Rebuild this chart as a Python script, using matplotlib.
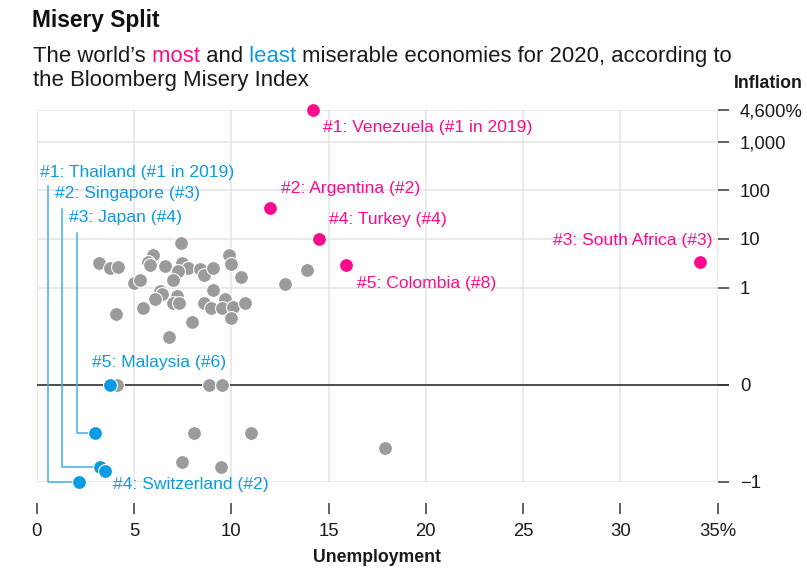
import matplotlib
matplotlib.use("Agg")
import matplotlib.pyplot as plt
import matplotlib.transforms as mtransforms

plt.rcParams['font.family'] = ['Liberation Sans', 'DejaVu Sans']

# ---------------- data ----------------
grey_unemp = [7.40, 3.22, 3.77, 4.19, 5.99, 5.73, 5.82, 6.58, 7.45, 7.79, 7.28, 8.39,
              8.60, 9.08, 9.88, 9.98, 10.48, 5.00, 5.31, 6.99, 12.78, 13.91,
              6.34, 6.42, 6.08, 7.19, 6.99, 7.33, 9.08, 8.60, 8.94, 9.68, 9.54,
              10.10, 10.70, 9.97, 5.48, 4.07, 7.98, 6.78,
              4.11, 8.87, 9.51,
              8.08, 11.00, 7.48, 9.47, 17.9]
grey_infl = [8.27, 3.13, 2.52, 2.59, 4.67, 3.29, 2.90, 2.77, 3.13, 2.47, 2.14, 2.40,
             1.80, 2.47, 4.67, 3.04, 1.66, 1.23, 1.44, 1.44, 1.18, 2.32,
             0.965, 0.937, 0.886, 0.914, 0.845, 0.839, 0.972, 0.845, 0.787, 0.886, 0.794,
             0.801, 0.845, 0.691, 0.794, 0.732, 0.647, 0.493,
             0.0, 0.0, 0.0,
             -0.50, -0.50, -0.80, -0.85, -0.65]

most_labels = ["#1: Venezuela (#1 in 2019)", "#2: Argentina (#2)", "#4: Turkey (#4)",
               "#5: Colombia (#8)", "#3: South Africa (#3)"]
most_unemp = [14.2, 12.0, 14.5, 15.9, 34.1]
most_infl = [4500, 44, 10.1, 2.9, 3.4]

least_labels = ["#1: Thailand (#1 in 2019)", "#2: Singapore (#3)", "#3: Japan (#4)",
                "#4: Switzerland (#2)", "#5: Malaysia (#6)"]
least_unemp = [2.19, 3.25, 3.00, 3.51, 3.77]
least_infl = [-1.02, -0.85, -0.50, -0.89, 0.0]

x_ticks = [0, 5, 10, 15, 20, 25, 30, 35]
x_ticklabels = ["0", "5", "10", "15", "20", "25", "30", "35%"]
y_ticks = [-1, 0, 1, 10, 100, 1000, 4600]
y_ticklabels = ["\u22121", "0", "1", "10", "100", "1,000", "4,600%"]

# ---------------- style ----------------
PINK = "#ff0a8c"
BLUE = "#0a9be2"
LEADER = "#45aee8"
GREY = "#9b9b9b"
GRID = "#e4e4e4"
TXT = "#1a1a1a"
FS = 12.6
TFS = 13.3

W, H = 807, 575
fig = plt.figure(figsize=(W / 100, H / 100), dpi=100)
fig.patch.set_facecolor("white")

x0, x1, ytop, ybot = 36.7, 717.7, 109.7, 481.7
ax = fig.add_axes([x0 / W, 1 - ybot / H, (x1 - x0) / W, (ybot - ytop) / H])
ax.set_yscale('symlog', linthresh=1, linscale=1.8)
ax.set_xlim(0, 35)
ax.set_ylim(-1, 4600)

for s in ax.spines.values():
    s.set_visible(False)
ax.spines['bottom'].set_position(('outward', 15))

ax.set_xticks(x_ticks)
ax.set_xticklabels(x_ticklabels)
ax.set_yticks(y_ticks)
ax.set_yticklabels(y_ticklabels)
ax.yaxis.set_minor_locator(matplotlib.ticker.NullLocator())
ax.yaxis.tick_right()
ax.tick_params(axis='x', direction='out', length=8, width=1.3, color='#555555',
               pad=6.5, labelsize=TFS, labelcolor=TXT)
ax.tick_params(axis='y', direction='out', length=8, width=1.3, color='#555555',
               pad=8, labelsize=TFS, labelcolor=TXT)

ax.grid(True, color=GRID, linewidth=1.1, zorder=0)
ax.set_axisbelow(True)

# zero line extended past the axis edge
trans = mtransforms.blended_transform_factory(ax.transAxes, ax.transData)
ax.plot([0, 1.016], [0, 0], color="#333333", lw=1.2, transform=trans,
        clip_on=False, zorder=1.5, solid_capstyle='butt')

# grey dots
ax.scatter(grey_unemp, grey_infl, s=100, color=GREY, edgecolors='white',
           linewidths=0.8, zorder=3, clip_on=False)

# leader lines for the least miserable
leader_x = [0.57, 1.30, 2.07]
leader_top = [126, 42, 13.5]
leader_text_off = [(-8, 13), (-7, 15), (-8, 15)]
for i in range(3):
    ax.plot([leader_x[i], leader_x[i], least_unemp[i]],
            [leader_top[i], least_infl[i], least_infl[i]],
            color=LEADER, lw=1.1, zorder=2.5, clip_on=False)
    ax.annotate(least_labels[i], xy=(leader_x[i], leader_top[i]),
                xytext=leader_text_off[i], textcoords='offset pixels',
                ha='left', va='center', color=BLUE, fontsize=FS, zorder=6,
                annotation_clip=False)

# other least-miserable labels
ax.annotate(least_labels[3], xy=(least_unemp[3], least_infl[3]), xytext=(8, -13),
            textcoords='offset pixels', ha='left', va='center', color=BLUE,
            fontsize=FS, zorder=6, annotation_clip=False)
ax.annotate(least_labels[4], xy=(least_unemp[4], least_infl[4]), xytext=(-18, 22),
            textcoords='offset pixels', ha='left', va='center', color=BLUE,
            fontsize=FS, zorder=6, annotation_clip=False)

ax.scatter(least_unemp, least_infl, s=100, color=BLUE, edgecolors='white',
           linewidths=0.8, zorder=4, clip_on=False)

# most miserable
ax.scatter(most_unemp, most_infl, s=100, color=PINK, edgecolors='white',
           linewidths=0.8, zorder=4, clip_on=False)
most_off = [(10, -17, 'left'), (11, 19, 'left'), (10, 19, 'left'),
            (11, -18, 'left'), (12, 21, 'right')]
for lab, xv, yv, (dx, dy, ha) in zip(most_labels, most_unemp, most_infl, most_off):
    ax.annotate(lab, xy=(xv, yv), xytext=(dx, dy), textcoords='offset pixels',
                ha=ha, va='center', color=PINK, fontsize=FS, zorder=6,
                annotation_clip=False)

# ---------------- titles ----------------
fig.text(32.5 / W, 1 - 27.3 / H, "Misery Split", fontsize=16.4, weight='bold',
         color="#111111", ha='left', va='baseline')

SUB = 15.9
t = fig.text(33 / W, 1 - 61.7 / H, "The world\u2019s", fontsize=SUB, color=TXT,
             ha='left', va='baseline')
for piece, col in [(" most", PINK), (" and", TXT), (" least", BLUE),
                   (" miserable economies for 2020, according to", TXT)]:
    t = fig.add_artist(matplotlib.text.Annotation(
        piece, xy=(1, 0), xycoords=t, va='bottom', ha='left',
        fontsize=SUB, color=col))
fig.text(33 / W, 1 - 86 / H, "the Bloomberg Misery Index", fontsize=SUB, color=TXT,
         ha='left', va='baseline')

fig.text(734 / W, 1 - 83 / H, "Inflation", fontsize=12.7, weight='bold', color=TXT,
         ha='left', va='center')
fig.text(377 / W, 1 - 561.7 / H, "Unemployment", fontsize=12.7, weight='bold',
         color=TXT, ha='center', va='baseline')

fig.savefig("out.png", dpi=100, facecolor="white")
